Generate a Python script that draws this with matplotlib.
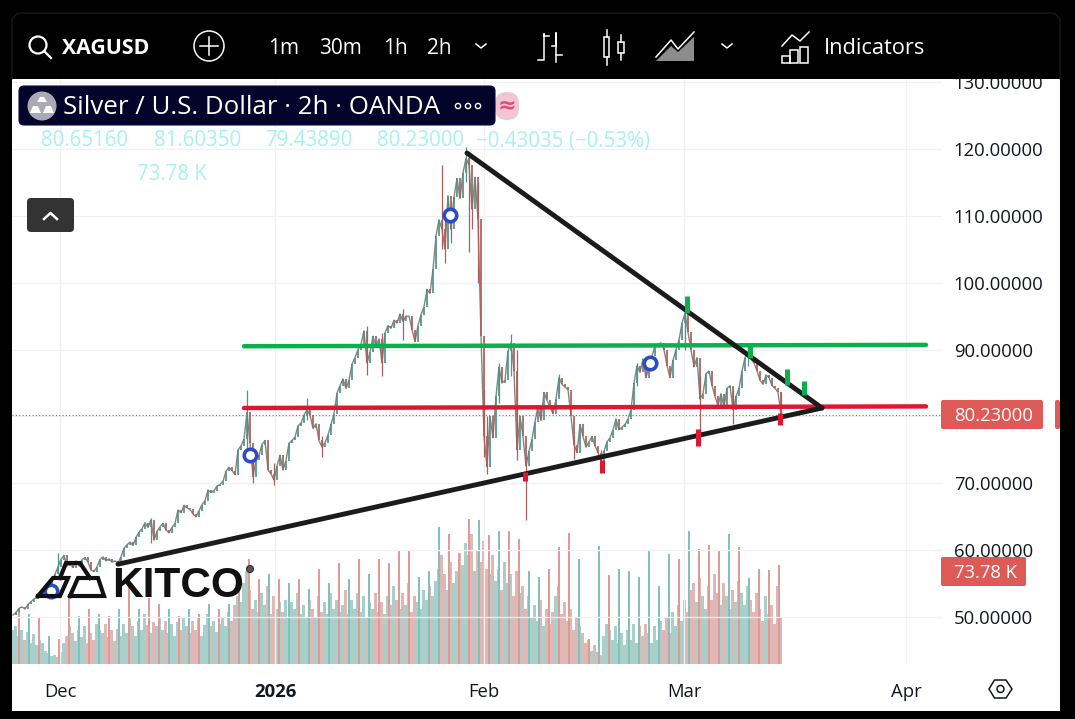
import matplotlib
matplotlib.use("Agg")
import matplotlib.pyplot as plt
from matplotlib.patches import Rectangle, FancyBboxPatch, Circle, Polygon

plt.rcParams['font.family'] = ['Open Sans', 'DejaVu Sans']

# 2h candles thinned to one bar per step
closes = [
    50.3, 50.7, 51.3, 51.5, 51.2, 51.9, 52.3, 52.7, 53.0, 53.4,
    53.6, 54.2, 54.0, 55.5, 56.4, 57.5, 58.6, 59.2, 57.6, 58.0,
    57.4, 58.4, 57.6, 58.6, 58.9, 58.2, 57.0, 56.8, 57.5, 58.6,
    59.0, 58.4, 58.7, 58.2, 58.4, 58.1, 59.0, 60.3, 60.8, 61.2,
    60.7, 61.9, 62.7, 63.2, 64.1, 63.4, 64.5, 61.5, 62.8, 63.5,
    64.0, 63.0, 62.6, 63.4, 64.0, 66.0, 65.6, 66.7, 66.3, 66.1,
    65.4, 65.0, 65.9, 66.8, 67.4, 69.0, 68.6, 68.9, 69.6, 69.8,
    70.3, 71.8, 72.4, 71.9, 71.3, 75.0, 75.6, 76.6, 80.6, 76.0,
    71.0, 73.5, 74.2, 75.8, 76.4, 72.0, 71.4, 70.5, 72.6, 74.2,
    72.0, 73.4, 76.0, 76.4, 76.9, 78.6, 79.0, 80.2, 81.0, 80.2,
    78.2, 78.9, 76.4, 75.4, 76.1, 77.2, 78.8, 80.4, 83.5, 84.6,
    85.6, 84.2, 85.4, 87.8, 88.8, 90.0, 90.8, 92.8, 88.0, 89.6,
    92.0, 90.4, 91.6, 88.0, 92.5, 93.6, 93.2, 94.4, 94.0, 95.3,
    94.2, 95.0, 95.0, 93.0, 91.2, 93.6, 95.2, 96.4, 99.0, 98.4,
    102.0, 107.0, 109.4, 108.0, 105.0, 113.0, 108.0, 112.8, 115.6, 112.6,
    116.4, 118.6, 117.6, 111.0, 115.8, 109.6, 92.0, 77.0, 72.5, 80.0,
    76.8, 83.0, 87.4, 85.0, 85.4, 89.8, 91.0, 86.8, 75.0, 80.0,
    77.0, 72.6, 74.8, 76.6, 79.2, 81.6, 79.4, 83.6, 82.4, 81.4,
    80.4, 82.6, 85.8, 84.8, 84.4, 84.0, 80.0, 75.8, 74.6, 78.8,
    77.0, 75.4, 76.2, 77.0, 75.6, 74.6, 73.4, 74.8, 76.2, 76.8,
    78.0, 79.6, 78.0, 78.4, 78.8, 79.6, 81.0, 85.0, 87.6, 86.6,
    88.6, 85.8, 87.4, 89.0, 90.6, 90.8, 91.0, 90.0, 87.6, 85.8,
    88.4, 90.0, 91.4, 94.0, 95.4, 92.6, 90.0, 87.4, 88.8, 82.6,
    83.4, 86.4, 86.8, 84.6, 83.0, 81.6, 83.4, 81.4, 84.2, 84.6,
    81.0, 83.0, 84.2, 86.8, 88.8, 89.6, 88.6, 88.0, 86.8, 85.4,
    84.8, 86.2, 85.8, 84.6, 84.2, 83.6, 80.23,
]

# only the bars with a wick long enough to see
wick_bars = [15, 46, 78, 80, 87, 98, 103, 118, 123, 130, 143, 144, 146, 151, 152, 153, 155,
             157, 158, 162, 166, 168, 171, 182, 187, 196, 208, 224, 229, 240, 245, 256]
wick_high = [59.5, 64.8, 84.0, 74.0, 73.0, 82.8, 77.0, 93.5, 92.5, 96.0, 117.6, 110.0, 112.0,
             120.3, 119.5, 113.0, 115.0, 84.0, 80.0, 88.0, 92.4, 90.0, 74.0, 86.4, 77.0, 75.0,
             88.0, 97.0, 86.0, 84.0, 90.8, 83.6]
wick_low = [56.5, 61.0, 75.0, 70.0, 69.8, 79.5, 74.0, 86.2, 86.0, 91.5, 105.0, 103.0, 106.0,
            115.0, 104.6, 108.0, 100.0, 74.0, 71.4, 82.0, 86.0, 73.5, 64.5, 83.5, 73.6, 72.6,
            84.5, 90.0, 76.0, 78.8, 87.5, 79.4]

# volume in thousands, same bars as closes
volume = [
    25, 28, 21, 25, 18, 24, 16, 22, 14, 18,
    16, 10, 8, 6, 7, 5, 9, 16, 21, 28,
    23, 17, 25, 20, 28, 16, 23, 18, 30, 25,
    23, 30, 20, 25, 17, 26, 21, 30, 23, 35,
    28, 21, 32, 25, 37, 29, 23, 31, 28, 35,
    25, 32, 23, 30, 21, 31, 25, 35, 28, 23,
    32, 25, 35, 21, 29, 37, 28, 32, 24, 30,
    35, 28, 39, 32, 44, 51, 46, 60, 69, 55,
    41, 48, 39, 53, 44, 58, 37, 51, 41, 46,
    39, 48, 35, 46, 41, 53, 37, 44, 35, 48,
    41, 35, 51, 39, 46, 37, 53, 41, 48, 39,
    44, 55, 37, 48, 41, 53, 39, 51, 35, 46,
    41, 53, 39, 46, 37, 51, 44, 58, 48, 41,
    53, 44, 60, 39, 51, 46, 41, 55, 48, 58,
    51, 62, 71, 81, 67, 55, 76, 60, 69, 83,
    74, 90, 81, 97, 69, 85, 76, 92, 71, 67,
    81, 62, 71, 55, 76, 60, 67, 51, 69, 53,
    58, 41, 51, 35, 44, 32, 48, 28, 41, 30,
    39, 51, 58, 37, 46, 32, 41, 25, 35, 28,
    23, 16, 18, 10, 14, 9, 7, 21, 30, 25,
    18, 28, 16, 23, 14, 25, 18, 30, 16, 28,
    21, 30, 23, 16, 28, 18, 32, 25, 35, 23,
    39, 28, 44, 32, 48, 39, 55, 60, 46, 64,
    51, 41, 58, 48, 67, 53, 44, 60, 51, 41,
    55, 46, 62, 53, 44, 58, 48, 39, 53, 41,
    32, 51, 37, 44, 30, 58, 35,
]

# the daily volume spikes, one per trading day
spike_volume = [
    40, 37, 34, 21, 19, 52, 36, 41, 37, 36, 41, 60, 41, 49, 45, 41, 36, 41, 37, 45,
    41, 45, 60, 78, 63, 67, 63, 60, 63, 56, 71, 60, 75, 63, 78, 67, 78, 75, 84, 84,
    65, 69, 102, 97, 82, 108, 107, 96, 99, 99, 93, 69, 65, 71, 87, 98, 78, 19, 88, 66,
    71, 69, 65, 84, 58, 82, 78, 99, 86, 89, 84, 97, 87, 64, 71, 70, 74,
]
spike_dir = "rgrgrrgrgrgrgrrgrgrgrgrrrgrgrgrgrgrgrrrrgggrrrgrgrrggrrrgrgrggggggrgrrrgrgrrr"

# trend lines and marks drawn on the chart (bar, price)
res_line_x, res_line_y = [151.33, 269.67], [119.4, 81.26]
sup_line_x, sup_line_y = [35.0, 269.67], [57.9, 81.26]
green_line_x, green_line_y = [77.0, 304.33], [90.5, 90.7]
red_line_x, red_line_y = [77.0, 304.33], [81.26, 81.5]

green_marks_x = [224.67, 245.67, 258.0, 263.67]
green_marks_top = [98.0, 91.0, 87.1, 85.3]
green_marks_bot = [95.5, 88.7, 84.7, 83.2]
red_marks_x = [170.67, 196.33, 228.33, 255.67]
red_marks_top = [71.7, 73.5, 78.1, 80.5]
red_marks_bot = [70.3, 71.5, 75.6, 78.7]

circle_x = [12.67, 79.0, 145.67, 212.33]
circle_y = [53.9, 74.2, 110.1, 88.0]

last_price = 80.23
price_ticks = [50, 60, 70, 80, 90, 100, 110, 120, 130]
date_ticks = [15.67, 87.33, 157.0, 223.67, 297.67]
date_labels = ["Dec", "2026", "Feb", "Mar", "Apr"]

UP = "#4f9389"
DOWN = "#ac5f5b"
VOL_UP = "#a9cfcb"
VOL_DOWN = "#dfb8b5"
W, H = 1075, 719

fig = plt.figure(figsize=(W / 100, H / 100), dpi=100, facecolor="white")

# price axes, pixel box 12..942 x 79..664
ax = fig.add_axes([12 / W, 1 - 664 / H, 930 / W, 585 / H])
ax_vol = ax.twinx()
ax.set_zorder(2)
ax_vol.set_zorder(1)
ax.patch.set_visible(False)

ax.set_xlim(-0.333, 309.667)
ax.set_ylim(42.97, 130.47)
ax_vol.set_ylim(0, 436)
ax_vol.set_yticks([])

ax.set_yticks(price_ticks)
# the 80 label sits behind the last price tag, so it is not shown
ax.set_yticklabels(["" if p == 80 else "%.5f" % p for p in price_ticks])
ax.yaxis.tick_right()
ax.set_xticks(date_ticks)
ax.set_xticklabels(date_labels)
ax.get_xticklabels()[1].set_fontweight("bold")
ax.tick_params(axis="y", length=0, labelsize=13.3, pad=8.5, labelcolor="#131722")
ax.tick_params(axis="x", length=0, labelsize=13.3, pad=13.5, labelcolor="#131722")
ax.grid(True, color="#f0f1f4", lw=0.9)
ax.set_axisbelow(True)
for a in (ax, ax_vol):
    for s in a.spines.values():
        s.set_visible(False)

# volume
bars = list(range(len(closes)))
vol_up = [i == 0 or closes[i] >= closes[i - 1] for i in bars]
ax_vol.bar(bars, volume, width=1.0, color=[VOL_UP if u else VOL_DOWN for u in vol_up], linewidth=0)
spike_bars = [2 + k * 10 / 3 for k in range(len(spike_volume))]
spike_cols = ["#dd9a97" if d == "r" else "#84c0ba" for d in spike_dir]
ax_vol.bar(spike_bars, spike_volume, width=0.42, color=spike_cols, linewidth=0)

# candles
candle_cols = [UP if u else DOWN for u in vol_up]
ax.plot(bars, closes, color="#858580", lw=1.0, zorder=3)
ax.vlines(wick_bars, wick_low, wick_high, colors=[candle_cols[i] for i in wick_bars], lw=0.9, zorder=3)
opens = [closes[0]] + closes[:-1]
ax.vlines(bars, opens, closes, colors=candle_cols, lw=1.25, zorder=4)

ax.axhline(last_price, color="#c9504c", lw=0.8, ls=(0, (1, 2)), zorder=3)

# drawings
ax.plot(green_line_x, green_line_y, color="#0bb04a", lw=3.2, solid_capstyle="round", zorder=5)
ax.plot(red_line_x, red_line_y, color="#e0152f", lw=3.2, solid_capstyle="round", zorder=5)
ax.plot(sup_line_x, sup_line_y, color="#1b1b1b", lw=3.5, solid_capstyle="round", zorder=6)
ax.plot(res_line_x, res_line_y, color="#1b1b1b", lw=3.5, solid_capstyle="round", zorder=6)
ax.vlines(green_marks_x, green_marks_bot, green_marks_top, color="#0bb04a", lw=3.6, zorder=7)
ax.vlines(red_marks_x, red_marks_bot, red_marks_top, color="#e0152f", lw=3.6, zorder=7)
ax.plot(circle_x, circle_y, ls="none", marker="o", ms=9, mfc="white", mec="#2e4bc6", mew=2.6, zorder=8)

# everything around the chart, in picture pixels
ui = fig.add_axes([0, 0, 1, 1], zorder=10)
ui.set_xlim(0, W)
ui.set_ylim(H, 0)
ui.axis("off")
ui.patch.set_visible(False)

# kitco logo
for path in ([(38, 596), (53, 578), (68, 578), (60, 596), (38, 596)],
             [(60, 578), (66, 563), (80, 563), (90, 578)],
             [(70, 596), (78, 578), (98, 578), (104, 596), (70, 596)]):
    ui.plot([p[0] for p in path], [p[1] for p in path], color="#111111", lw=3.0, solid_joinstyle="miter")
ui.text(112, 597, "KITCO", family="Liberation Sans", fontweight="bold", fontsize=30.5, color="#111111",
        va="baseline", ha="left")
ui.add_patch(Circle((250, 569), 3.5, fc="#555555", ec="#333333", lw=0.8))

# frame and toolbar
for x, y, w, h in [(0, 0, W, 79), (0, 0, 12, H), (1060, 0, 15, H), (0, 711, W, 8)]:
    ui.add_patch(Rectangle((x, y), w, h, fc="black", ec="none"))
ui.plot([12, 12, 18, 1054, 1060, 1060], [79, 19, 13, 13, 19, 79], color="#1e1e1e", lw=0.8)

ui.add_patch(Circle((38, 45), 8.5, fc="none", ec="white", lw=1.6))
ui.plot([44, 51], [51, 58], color="white", lw=1.6)
ui.text(62, 48, "XAGUSD", color="white", fontsize=15.3, fontweight="bold", va="center")
ui.add_patch(Circle((209, 46), 15, fc="none", ec="white", lw=1.1))
ui.plot([200, 218], [46, 46], color="white", lw=1.1)
ui.plot([209, 209], [37, 55], color="white", lw=1.1)
for tx, label in [(268, "1m"), (319, "30m"), (383, "1h"), (427, "2h")]:
    ui.text(tx, 49, label, color="white", fontsize=15, va="center")
for cx in (481, 727):
    ui.plot([cx - 5, cx, cx + 5], [44, 48, 44], color="white", lw=1.1)

# bars icon
ui.plot([538, 544, 544, 544, 549], [60, 60, 34, 36, 36], color="white", lw=1.1)
ui.plot([552, 556, 556, 556, 562], [46, 46, 33, 55, 55], color="white", lw=1.1)
ui.plot([556, 556], [55, 62], color="white", lw=1.1)
# candles icon
ui.add_patch(Rectangle((604, 37), 5, 20, fc="black", ec="white", lw=1.1))
ui.plot([606.5, 606.5], [30, 37], color="white", lw=1.1)
ui.plot([606.5, 606.5], [57, 65], color="white", lw=1.1)
ui.add_patch(Rectangle((618, 42), 6, 11, fc="black", ec="white", lw=1.1))
ui.plot([621, 621], [35, 42], color="white", lw=1.1)
ui.plot([621, 621], [53, 60], color="white", lw=1.1)
# area icon
ui.add_patch(Polygon([(656, 61), (671, 46), (678, 52), (694, 37), (694, 61)], fc="#8c8c8c", ec="none"))
ui.plot([656, 671, 678, 694], [57, 40, 49, 32], color="white", lw=1.1)
# indicators icon
ui.plot([782, 792, 800, 809], [46, 35, 41, 32], color="white", lw=1.1)
for bx, by, bw, bh in [(782, 56, 8, 7), (790, 50, 8, 13), (800, 47, 8, 16)]:
    ui.add_patch(Rectangle((bx, by), bw, bh, fc="none", ec="white", lw=1.1))
ui.text(824, 49, "Indicators", color="white", fontsize=15.7, va="center")

# symbol title
ui.add_patch(FancyBboxPatch((495, 92), 24, 28, boxstyle="round,pad=0,rounding_size=12", fc="#f2c6d0", ec="none"))
ui.text(507, 105, "≈", color="#e8447f", fontsize=16, fontweight="bold", ha="center", va="center", family="DejaVu Sans")
ui.add_patch(FancyBboxPatch((19, 86), 476, 39, boxstyle="round,pad=0,rounding_size=5", fc="#04042a", ec="#0b0b44", lw=0.8))
ui.add_patch(Circle((42, 106), 14.5, fc="#aba9b3", ec="none"))
for pts in ([(37, 102), (47, 102), (44, 97), (40, 97)], [(30, 113), (41, 113), (38, 106), (33, 106)], [(43, 113), (54, 113), (51, 106), (46, 106)]):
    ui.add_patch(Polygon(pts, fc="white", ec="none"))
ui.text(63, 108, "Silver / U.S. Dollar · 2h · OANDA", color="white", fontsize=18.6, va="center")
for cx in (458, 468, 478):
    ui.add_patch(Circle((cx, 106), 2.6, fc="none", ec="white", lw=1))

# ohlc row
for tx, label in [(41, "80.65160"), (154, "81.60350"), (265, "79.43890"), (377, "80.23000"), (476, "−0.43035 (−0.53%)")]:
    ui.text(tx, 141, label, color="#a8f0f2", fontsize=14.8, va="center")
ui.text(137, 175, "73.78 K", color="#a8f0f2", fontsize=14.8, va="center")

ui.add_patch(FancyBboxPatch((27, 198), 47, 34, boxstyle="round,pad=0,rounding_size=4", fc="#333333", ec="none"))
ui.plot([44, 50.5, 57], [219, 213, 219], color="white", lw=1.8)

# price scale labels
ui.add_patch(FancyBboxPatch((941, 400), 102, 29, boxstyle="round,pad=0,rounding_size=2", fc="#de5a57", ec="none"))
ui.text(954, 416, "80.23000", color="white", fontsize=13.3, va="center")
ui.add_patch(FancyBboxPatch((1055, 400), 5, 29, boxstyle="round,pad=0,rounding_size=2", fc="#de5a57", ec="none"))
ui.add_patch(FancyBboxPatch((941, 557), 85, 29, boxstyle="round,pad=0,rounding_size=2", fc="#de5a57", ec="none"))
ui.text(954, 573, "73.78 K", color="white", fontsize=13.3, va="center")

# settings hexagon
ui.add_patch(Polygon([(989, 689), (994.5, 680), (1006, 680), (1012, 689), (1006, 698), (994.5, 698)], fc="none", ec="#131722", lw=1.1))
ui.add_patch(Circle((1000.5, 689), 3.5, fc="none", ec="#131722", lw=1.1))

fig.savefig("out.png", dpi=100, facecolor=fig.get_facecolor())
